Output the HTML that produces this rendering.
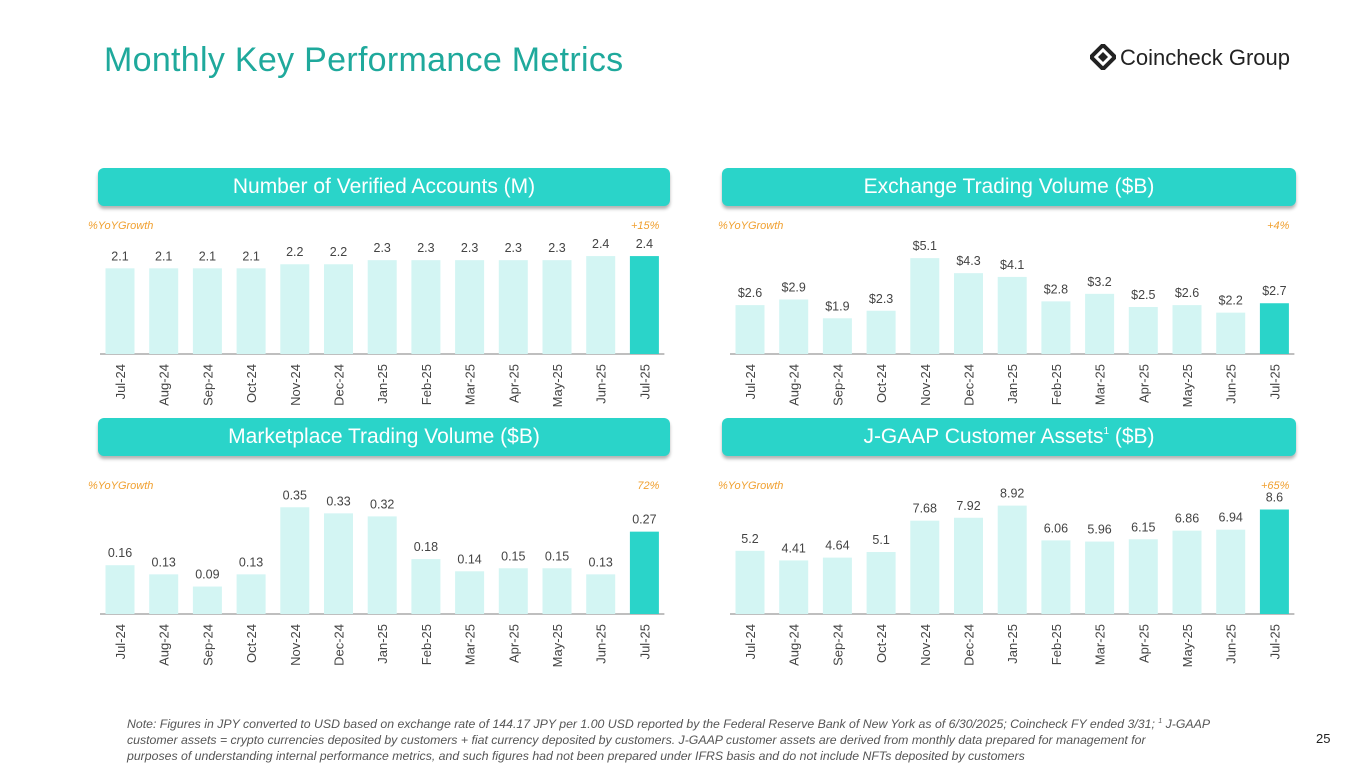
<!DOCTYPE html>
<html><head><meta charset="utf-8"><style>
body{margin:0;width:1365px;height:768px;background:#fff;position:relative;overflow:hidden;font-family:"Liberation Sans",sans-serif;}
.title{position:absolute;left:104px;top:41px;font-size:34px;color:#1fa99c;font-family:"Liberation Sans",sans-serif;letter-spacing:0.3px}
.hdr{position:absolute;height:38px;background:#2ad4c9;border-radius:6px;box-shadow:0 3px 3px rgba(0,0,0,0.3);color:#fff;font-size:21px;text-align:center;line-height:38px;font-family:"Liberation Sans",sans-serif}
.hdr sup{font-size:10px;line-height:0;position:relative;top:-9px;vertical-align:baseline}
.note{position:absolute;left:127px;top:716px;font-size:12.3px;font-style:italic;color:#555;line-height:16px}
.pg{position:absolute;left:1316px;top:731px;font-size:13px;color:#222;font-family:"Liberation Sans",sans-serif}
.logo{position:absolute;left:1090px;top:44px;font-size:22px;color:#222;font-family:"Liberation Sans",sans-serif}
svg{position:absolute;left:0;top:0}
</style></head><body>
<div class="title">Monthly Key Performance Metrics</div>
<div class="logo"><svg width="26" height="26" viewBox="0 0 26 26" style="position:relative;vertical-align:-5px;margin-right:4px"><path d="M13 1 L25 13 L13 25 L1 13 Z" fill="none" stroke="#222" stroke-width="4"/><path d="M13 8 L18 13 L13 18 L8 13 Z" fill="#222"/></svg>Coincheck Group</div>
<div class="hdr" style="left:98px;top:168px;width:572px">Number of Verified Accounts (M)</div>
<div class="hdr" style="left:722px;top:168px;width:574px">Exchange Trading Volume ($B)</div>
<div class="hdr" style="left:98px;top:418px;width:572px">Marketplace Trading Volume ($B)</div>
<div class="hdr" style="left:722px;top:418px;width:574px">J-GAAP Customer Assets<sup>1</sup> ($B)</div>
<svg id="chart" width="1365" height="768"></svg>
<div class="note">Note: Figures in JPY converted to USD based on exchange rate of 144.17 JPY per 1.00 USD reported by the Federal Reserve Bank of New York as of 6/30/2025; Coincheck FY ended 3/31; <sup style="font-size:7px;line-height:0">1</sup> J-GAAP<br>customer assets = crypto currencies deposited by customers + fiat currency deposited by customers. J-GAAP customer assets are derived from monthly data prepared for management for<br>purposes of understanding internal performance metrics, and such figures had not been prepared under IFRS basis and do not include NFTs deposited by customers</div>
<div class="pg">25</div>
<script>
const categories=["Jul-24","Aug-24","Sep-24","Oct-24","Nov-24","Dec-24","Jan-25","Feb-25","Mar-25","Apr-25","May-25","Jun-25","Jul-25"];
const accounts=[2.1,2.1,2.1,2.1,2.2,2.2,2.3,2.3,2.3,2.3,2.3,2.4,2.4];
const accountsLabels=["2.1","2.1","2.1","2.1","2.2","2.2","2.3","2.3","2.3","2.3","2.3","2.4","2.4"];
const exchange=[2.6,2.9,1.9,2.3,5.1,4.3,4.1,2.8,3.2,2.5,2.6,2.2,2.7];
const exchangeLabels=["$2.6","$2.9","$1.9","$2.3","$5.1","$4.3","$4.1","$2.8","$3.2","$2.5","$2.6","$2.2","$2.7"];
const market=[0.16,0.13,0.09,0.13,0.35,0.33,0.32,0.18,0.14,0.15,0.15,0.13,0.27];
const marketLabels=["0.16","0.13","0.09","0.13","0.35","0.33","0.32","0.18","0.14","0.15","0.15","0.13","0.27"];
const assets=[5.2,4.41,4.64,5.1,7.68,7.92,8.92,6.06,5.96,6.15,6.86,6.94,8.6];
const assetsLabels=["5.2","4.41","4.64","5.1","7.68","7.92","8.92","6.06","5.96","6.15","6.86","6.94","8.6"];
const growth=["+15%","+4%","72%","+65%"];

const svg=document.getElementById('chart');
const NS='http://www.w3.org/2000/svg';
function mk(tag,attrs){const e=document.createElementNS(NS,tag);for(const k in attrs)e.setAttribute(k,attrs[k]);svg.appendChild(e);return e;}
function panel(name,x0,base,pxPerUnit,vals,labels,g){
  const pitch=43.7, bw=29;
  const xs=i=>x0+i*pitch;
  const ys=v=>base-v*pxPerUnit;
  const ax=mk('line',{x1:x0-20,x2:x0+12*pitch+20,y1:base,y2:base,stroke:'#aaa','stroke-width':1.5});
  
  
  const t=mk('text',{x:x0-32,y:base-125,'font-size':11,'font-style':'italic',fill:'#f0a030'});
  t.textContent='%YoYGrowth';
  
  
  const gt=mk('text',{x:x0+12*pitch+15,y:base-125,'font-size':11,'font-style':'italic',fill:'#f0a030','text-anchor':'end'});
  gt.textContent=g;
  
  
  vals.forEach((v,i)=>{
    const last=i===vals.length-1;
    const r=mk('rect',{x:xs(i)-bw/2,y:ys(v),width:bw,height:base-ys(v),fill:last?'#2ad4c9':'#d3f5f3'});
    
    
    const l=mk('text',{x:xs(i),y:ys(v)-8,'font-size':12.5,fill:'#444','text-anchor':'middle'});
    l.textContent=labels[i];
    
    
    const c=mk('text',{x:0,y:0,'font-size':13,fill:'#444','text-anchor':'end',transform:`translate(${xs(i)+5},${base+10}) rotate(-90)`});
    c.textContent=categories[i];
    
    
  });
}
panel('verified-accounts',120,354,40.8,accounts,accountsLabels,growth[0]);
panel('exchange-volume',750,354,18.8,exchange,exchangeLabels,growth[1]);
panel('marketplace-volume',120,614,305,market,marketLabels,growth[2]);
panel('customer-assets',750,614,12.15,assets,assetsLabels,growth[3]);
</script>
</body></html>
